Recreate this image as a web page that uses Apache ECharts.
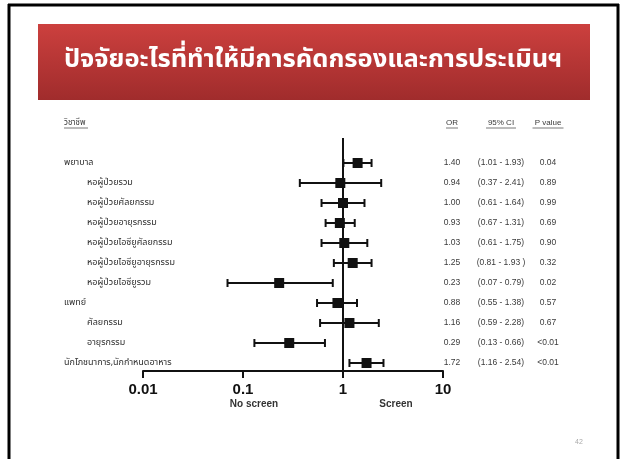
<!DOCTYPE html>
<html>
<head>
<meta charset="utf-8">
<script src="https://cdn.jsdelivr.net/npm/echarts@6/dist/echarts.min.js"></script>
<style>
html,body{margin:0;padding:0;background:#fff;}
#chart{width:622px;height:459px;}
</style>
</head>
<body>
<div id="chart"></div>
<script>
// Forest plot rows: label, whether it is a group heading, odds ratio and 95% CI
const rowLabels = [
  'พยาบาล', 'หอผู้ป่วยรวม', 'หอผู้ป่วยศัลยกรรม', 'หอผู้ป่วยอายุรกรรม',
  'หอผู้ป่วยไอซียูศัลยกรรม', 'หอผู้ป่วยไอซียูอายุรกรรม', 'หอผู้ป่วยไอซียูรวม',
  'แพทย์', 'ศัลยกรรม', 'อายุรกรรม', 'นักโภชนาการ,นักกำหนดอาหาร'
];
const isGroup = [true, false, false, false, false, false, false, true, false, false, true];
const oddsRatio = [1.40, 0.94, 1.00, 0.93, 1.03, 1.25, 0.23, 0.88, 1.16, 0.29, 1.72];
const ciLow  = [1.01, 0.37, 0.61, 0.67, 0.61, 0.81, 0.07, 0.55, 0.59, 0.13, 1.16];
const ciHigh = [1.93, 2.41, 1.64, 1.31, 1.75, 1.93, 0.79, 1.38, 2.28, 0.66, 2.54];
const pValues = ['0.04', '0.89', '0.99', '0.69', '0.90', '0.32', '0.02', '0.57', '0.67', '<0.01', '<0.01'];
const xTicks = [0.01, 0.1, 1, 10];
const titleText = 'ปัจจัยอะไรที่ทำให้มีการคัดกรองและการประเมินฯ';
const headers = { label: 'วิชาชีพ', or: 'OR', ci: '95% CI', p: 'P value' };

const fmt = v => v.toFixed(2);
const ciText = (i) => '(' + fmt(ciLow[i]) + ' - ' + fmt(ciHigh[i]) + (i === 5 ? ' )' : ')');

const thaiFont = '"Noto Sans Thai","Loma","Garuda","Tlwg Typo","DejaVu Sans",sans-serif';
const tableFont = 'Arial,"Liberation Sans",sans-serif';
const COL_GROUP = 64, COL_SUB = 87, COL_OR = 452, COL_CI = 501, COL_P = 548;

const data = oddsRatio.map((v, i) => [v, ciLow[i], ciHigh[i], i]);

const chart = echarts.init(document.getElementById('chart'));

function renderRow(params, api) {
  const i = api.value(3);
  const c = api.coord([api.value(0), i]);
  const lo = api.coord([api.value(1), i]);
  const hi = api.coord([api.value(2), i]);
  const y = c[1];
  const lw = 2, cap = 4, sq = 5;
  const txt = (x, text, align, font, size, color) => ({
    type: 'text',
    style: { x: x, y: y, text: text, align: align, verticalAlign: 'middle',
             fill: color, font: size + 'px ' + font }
  });
  return {
    type: 'group',
    children: [
      { type: 'line', shape: { x1: lo[0], y1: y, x2: hi[0], y2: y }, style: { stroke: '#111', lineWidth: lw } },
      { type: 'line', shape: { x1: lo[0], y1: y - cap, x2: lo[0], y2: y + cap }, style: { stroke: '#111', lineWidth: lw } },
      { type: 'line', shape: { x1: hi[0], y1: y - cap, x2: hi[0], y2: y + cap }, style: { stroke: '#111', lineWidth: lw } },
      { type: 'rect', shape: { x: c[0] - sq, y: y - sq, width: sq * 2, height: sq * 2 }, style: { fill: '#111' } },
      txt(isGroup[i] ? COL_GROUP : COL_SUB, rowLabels[i], 'left', thaiFont, 9, '#2e2e2e'),
      txt(COL_OR, fmt(oddsRatio[i]), 'center', tableFont, 8.5, '#3a3a3a'),
      txt(COL_CI, ciText(i), 'center', tableFont, 8.5, '#3a3a3a'),
      txt(COL_P, pValues[i], 'center', tableFont, 8.5, '#3a3a3a')
    ]
  };
}

const option = {
  animation: false,
  backgroundColor: '#fff',
  grid: { left: 143, right: 179, top: 138, bottom: 88 },
  xAxis: {
    type: 'log', logBase: 10, min: xTicks[0], max: xTicks[xTicks.length - 1],
    axisLine: { onZero: false, lineStyle: { color: '#111', width: 2 } },
    axisTick: { length: 7, lineStyle: { color: '#111', width: 2 } },
    minorTick: { show: false },
    splitLine: { show: false },
    axisLabel: { margin: 11, color: '#111', fontSize: 15, fontWeight: 'bold', fontFamily: tableFont,
                 formatter: v => String(v) }
  },
  yAxis: { type: 'value', inverse: true, min: -1.25, max: 10.4, show: false },
  series: [{
    type: 'custom',
    renderItem: renderRow,
    data: data,
    encode: { x: [0, 1, 2], y: 3 },
    clip: false,
    markLine: {
      silent: true, symbol: 'none', label: { show: false },
      lineStyle: { color: '#111', width: 2, type: 'solid' },
      data: [[{ coord: [1, -1.25] }, { coord: [1, 10.4] }]]
    }
  }]
};
chart.setOption(option);

// Header row and axis captions positioned from the chart's own scales
const yHead = chart.convertToPixel({ gridIndex: 0 }, [1, -2])[1];
const xNo = chart.convertToPixel({ gridIndex: 0 }, [0.1, 0])[0];
const xYes = chart.convertToPixel({ gridIndex: 0 }, [1, 0])[0];
const axisY = chart.convertToPixel({ gridIndex: 0 }, [1, 10.4])[1];

function headerText(x, text, align, font, size) {
  return { type: 'text', style: { x: x, y: yHead, text: text, align: align, verticalAlign: 'middle',
    fill: '#3a3a3a', font: size + 'px ' + font } };
}
function underline(x, w, align) {
  const x0 = align === 'left' ? x : x - w / 2;
  return { type: 'line', shape: { x1: x0, y1: yHead + 5, x2: x0 + w, y2: yHead + 5 },
    style: { stroke: '#555', lineWidth: 0.8 } };
}

chart.setOption({
  graphic: [
    // slide frame
    { type: 'line', shape: { x1: 8, y1: 5, x2: 619, y2: 5 }, style: { stroke: '#000', lineWidth: 3 } },
    { type: 'line', shape: { x1: 9, y1: 4, x2: 9, y2: 459 }, style: { stroke: '#000', lineWidth: 3 } },
    { type: 'line', shape: { x1: 618, y1: 4, x2: 618, y2: 459 }, style: { stroke: '#000', lineWidth: 3 } },
    // title banner
    { type: 'rect', shape: { x: 38, y: 24, width: 552, height: 76 },
      style: { fill: new echarts.graphic.LinearGradient(0, 0, 0, 1, [
        { offset: 0, color: '#cc403e' }, { offset: 1, color: '#a02c2c' }]) } },
    { type: 'text', style: { x: 313, y: 62, text: titleText, align: 'center', verticalAlign: 'middle',
      fill: '#fff', font: 'bold 25.5px ' + thaiFont } },
    // table header
    headerText(COL_GROUP, headers.label, 'left', thaiFont, 8),
    underline(COL_GROUP, 24, 'left'),
    headerText(COL_OR, headers.or, 'center', tableFont, 8),
    underline(COL_OR, 12, 'center'),
    headerText(COL_CI, headers.ci, 'center', tableFont, 8),
    underline(COL_CI, 30, 'center'),
    headerText(COL_P, headers.p, 'center', tableFont, 8),
    underline(COL_P, 31, 'center'),
    // axis captions
    { type: 'text', style: { x: xNo + 11, y: axisY + 33, text: 'No screen', align: 'center', verticalAlign: 'middle',
      fill: '#333', font: 'bold 10px ' + tableFont } },
    { type: 'text', style: { x: xYes + 53, y: axisY + 33, text: 'Screen', align: 'center', verticalAlign: 'middle',
      fill: '#333', font: 'bold 10px ' + tableFont } },
    // slide number
    { type: 'text', style: { x: 579, y: 442, text: '42', align: 'center', verticalAlign: 'middle',
      fill: '#aaa', font: '7px ' + tableFont } }
  ]
});
</script>
</body>
</html>
